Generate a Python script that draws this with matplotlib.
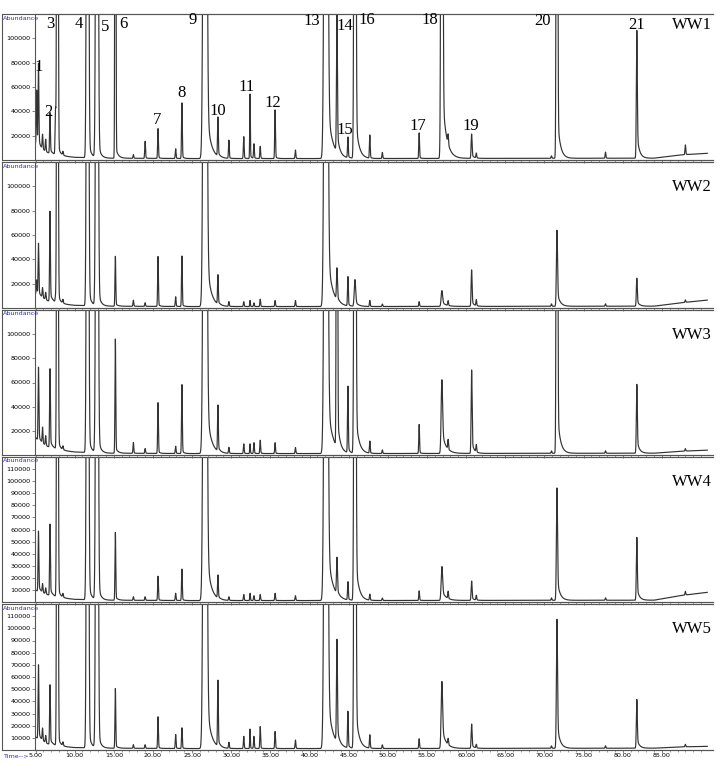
import numpy as np
import matplotlib.pyplot as plt

samples = ['WW1', 'WW2', 'WW3', 'WW4', 'WW5']
OFF = 1.0e6  # peaks that run off the top of the panel

# labelled peaks 1..21
peak_time = [5.38, 6.85, 7.80, 11.65, 12.85, 15.2, 20.65, 23.7, 26.65, 28.3, 32.4,
             35.6, 42.1, 43.5, 44.9, 45.8, 54.0, 56.9, 60.7, 71.6, 81.8]
peak_sigma = [0.05, 0.05, 0.07, 0.10, 0.11, 0.05, 0.05, 0.05, 0.16, 0.05, 0.04,
              0.05, 0.16, 0.06, 0.05, 0.09, 0.05, 0.09, 0.06, 0.07, 0.06]
peak_tail = [0.10, 0.10, 0.05, 0.10, 0.10, 0.05, 0.05, 0.05, 0.30, 0.10, 0.05,
             0.05, 0.30, 0.15, 0.10, 0.20, 0.05, 0.30, 0.15, 0.20, 0.20]
peak_tau = [0.3, 0.3, 0.3, 0.3, 0.3, 0.3, 0.2, 0.2, 0.5, 0.3, 0.2,
            0.2, 0.6, 0.3, 0.2, 0.4, 0.2, 0.5, 0.3, 0.35, 0.3]

ww1 = [68000, 33500, OFF, OFF, OFF, OFF, 24500, 45700, OFF, 32000, 53000,
       40000, OFF, 113000, 17000, OFF, 21000, OFF, 20000, OFF, 105000]
ww2 = [43000, 74000, OFF, OFF, OFF, 41000, 41000, 41500, OFF, 24000, 5000,
       5000, OFF, 26000, 24000, 22000, 4000, 13000, 30000, 62500, 23000]
ww3 = [61000, 65000, OFF, OFF, OFF, 94500, 42000, 57000, OFF, 38000, 8000,
       9000, OFF, OFF, 55000, OFF, 24000, 61000, 69000, OFF, 57000]
ww4 = [50000, 59000, OFF, OFF, OFF, 56000, 20000, 26000, OFF, 19000, 6000,
       6000, OFF, 30000, 15000, OFF, 8000, 28000, 16000, 93000, 52000]
ww5 = [61000, 49000, OFF, OFF, OFF, 49000, 26000, 17000, OFF, 54000, 16000,
       14000, OFF, 84000, 30000, OFF, 8000, 55000, 20000, 106000, 40000]

# unlabelled minor peaks
minor_time = [5.15, 5.9, 6.3, 7.55, 8.5, 17.5, 19.0, 22.9, 29.7, 31.6, 32.9,
              33.7, 38.2, 47.7, 49.3, 57.7, 61.3, 70.9, 77.8, 88.0]
minor_ww1 = [45000, 12000, 10000, 37000, 3000, 3000, 14000, 8000, 15000, 18000, 12000,
             10000, 7000, 19000, 5000, 8000, 4000, 2000, 5000, 8000]
minor_ww2 = [12000, 8000, 6000, 4000, 3000, 5000, 3000, 8000, 4000, 4000, 3000,
             6000, 5000, 5000, 2000, 4000, 5000, 2000, 2000, 2000]
minor_ww3 = [0, 13000, 8000, 0, 3000, 9000, 4000, 6000, 5000, 8000, 9000,
             11000, 5000, 10000, 3000, 8000, 6000, 2000, 2000, 2000]
minor_ww4 = [0, 7000, 5000, 0, 3000, 3000, 3000, 6000, 3000, 5000, 4000,
             5000, 4000, 5000, 2000, 6000, 4000, 2000, 2000, 3000]
minor_ww5 = [0, 10000, 6000, 0, 3000, 3000, 3000, 11500, 5000, 10000, 10000,
             18000, 7000, 11000, 3000, 5000, 3000, 2000, 2000, 2000]

# baseline drift
base_time = [4.95, 5.6, 6.5, 8.0, 10.0, 14.0, 25.0, 45.0, 84.0, 87.0, 90.8]
base_ww1 = [14000, 9000, 6000, 3500, 2200, 1500, 1200, 1200, 1500, 4000, 5500]
base_ww2 = [12000, 9000, 6000, 3500, 2200, 1500, 1200, 1200, 1500, 4000, 6500]
base_ww3 = [15000, 10000, 7000, 4000, 2500, 1500, 1200, 1200, 1500, 3000, 4000]
base_ww4 = [10000, 8000, 6000, 3500, 2200, 1500, 1200, 1200, 1500, 5000, 8000]
base_ww5 = [11000, 8000, 5000, 3000, 2000, 1500, 1200, 1200, 1500, 2500, 3000]

heights = [ww1, ww2, ww3, ww4, ww5]
minors = [minor_ww1, minor_ww2, minor_ww3, minor_ww4, minor_ww5]
bases = [base_ww1, base_ww2, base_ww3, base_ww4, base_ww5]

# peak numbers in WW1 (time, abundance)
label_pos = [(5.45, 76700), (6.6, 39200), (6.85, 112000), (10.55, 112000), (13.9, 109000),
             (16.2, 112000), (20.5, 32600), (23.6, 54700), (25.1, 115000), (28.3, 40000),
             (31.9, 59600), (35.3, 46500), (40.3, 114000), (44.5, 110000), (44.5, 24500),
             (47.3, 115000), (53.85, 27700), (55.4, 115000), (60.6, 27700), (69.8, 114000),
             (81.8, 111000)]

W, H = 725, 763
fig = plt.figure(figsize=(W / 100, H / 100), dpi=100)
panels = [(14, 160), (162, 308), (310, 455), (457, 602), (604, 750)]
xl, xr = 35, 713
CAP = 200000
frame_col = '#555555'
blue = '#2b2bd6'

t = np.arange(4.95, 90.8, 0.005)


def shape(t0, h, s, a, tau):
    g = h * np.exp(-0.5 * ((t - t0) / s) ** 2)
    dt = np.clip(t - t0, 0, None)
    tail = a * min(h, CAP) * np.exp(-dt / tau) * (1 - np.exp(-0.5 * (dt / s) ** 2))
    return g + tail


for i, (top, bot) in enumerate(panels):
    # outer frame
    fr = fig.add_axes([2 / W, 1 - bot / H, (xr - 2) / W, (bot - top) / H])
    fr.set_xticks([])
    fr.set_yticks([])
    fr.spines['right'].set_visible(False)
    for s in ['left', 'top', 'bottom']:
        fr.spines[s].set_color(frame_col)
        fr.spines[s].set_linewidth(0.8)
    fr.patch.set_alpha(0)

    ax = fig.add_axes([xl / W, 1 - bot / H, (xr - xl) / W, (bot - top) / H])
    ax.patch.set_alpha(0)
    y = np.interp(t, base_time, bases[i])
    for k in range(len(peak_time)):
        y = y + shape(peak_time[k], heights[i][k], peak_sigma[k], peak_tail[k], peak_tau[k])
    for k in range(len(minor_time)):
        if minors[i][k] > 0:
            y = y + shape(minor_time[k], minors[i][k], 0.05, 0.05, 0.2)
    ax.plot(t, y, color='#333333', lw=0.85)
    ax.set_xlim(4.936, 91.53)
    ax.set_ylim(0, 120000)
    ax.spines['right'].set_visible(False)
    for s in ['left', 'top', 'bottom']:
        ax.spines[s].set_color(frame_col)
        ax.spines[s].set_linewidth(0.8)
    if i < 3:
        ax.set_yticks(np.arange(20000, 100001, 20000))
    else:
        ax.set_yticks(np.arange(10000, 110001, 10000))
    ax.set_yticklabels([str(v) for v in ax.get_yticks().astype(int)])
    ax.set_xticks(np.arange(5, 86, 5))
    ax.set_xticks(np.arange(5, 91, 1), minor=True)
    ax.tick_params(axis='both', which='major', length=2, width=0.5, labelsize=4.6, pad=1,
                   color=frame_col)
    ax.tick_params(axis='x', which='minor', length=1.5, width=0.4, color=frame_col)
    if i < 4:
        ax.set_xticklabels([])
    else:
        ax.set_xticklabels(['%.2f' % v for v in np.arange(5, 86, 5)])
        ax.tick_params(axis='x', pad=0.5)

    fig.text(3 / W, 1 - (top + 4) / H, 'Abundance', color=blue, fontsize=4.6,
             va='center', ha='left')
    ax.text(0.998, 0.925 if i == 0 else 0.83, samples[i], transform=ax.transAxes,
            ha='right', va='center', fontsize=12, family='Liberation Serif')

    if i == 0:
        for n, (lx, ly) in enumerate(label_pos):
            ax.text(lx, ly, str(n + 1), ha='center', va='center', fontsize=12,
                    family='Liberation Serif')

fig.text(3 / W, 1 - 756 / H, 'Time-->', color=blue, fontsize=4.6, va='center', ha='left')

fig.savefig('out.png', dpi=100)
